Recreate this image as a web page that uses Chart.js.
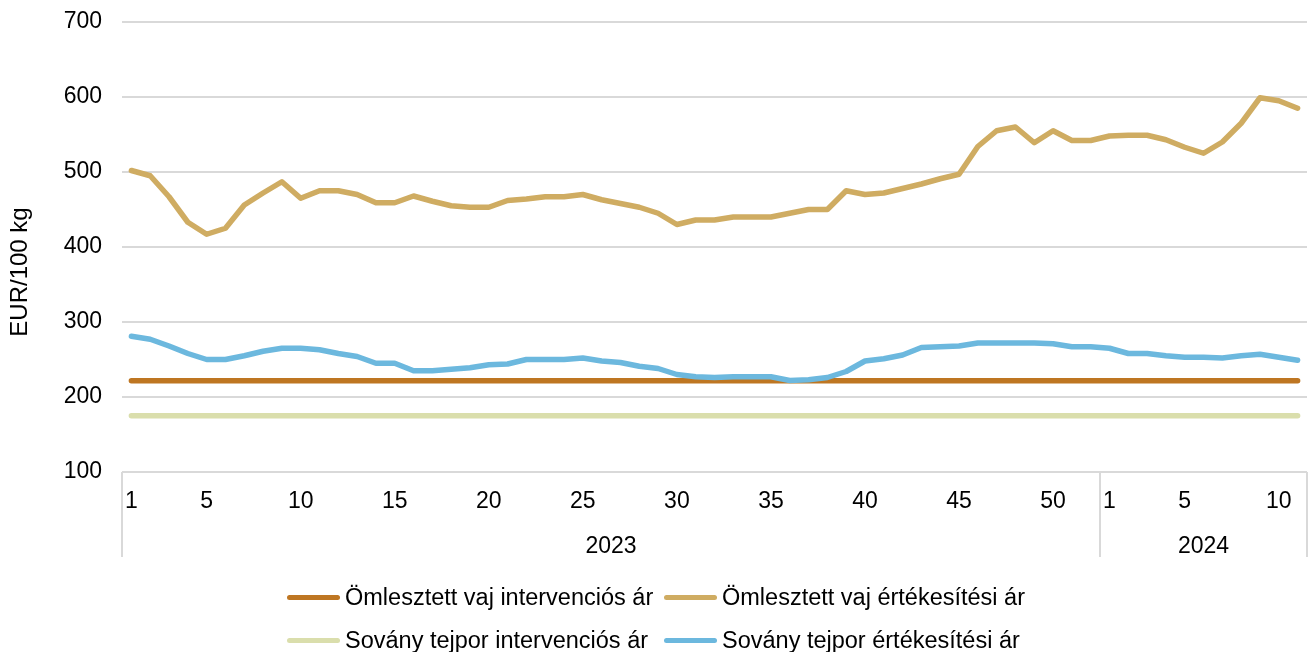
<!DOCTYPE html>
<html>
<head>
<meta charset="utf-8">
<script src="https://cdn.jsdelivr.net/npm/chart.js@4/dist/chart.umd.min.js"></script>
<style>
  body { margin: 0; background: #fff; }
  #wrap { position: relative; width: 1310px; height: 652px; }
  #legend {
    position: absolute; left: 287px; top: 583px;
    display: grid; grid-template-columns: 377px 377px; row-gap: 15px;
    font: 23.5px "Liberation Sans", Arial, sans-serif; color: #000;
  }
  .item { display: flex; align-items: center; height: 28px; white-space: nowrap; }
  .swatch { width: 53px; height: 5px; border-radius: 3px; margin-right: 5px; }
</style>
</head>
<body>
<div id="wrap">
  <canvas id="myChart" width="1310" height="652"></canvas>
  <div id="legend"></div>
</div>
<script>
// heti adatok, EUR/100 kg
const weeks = [
  '1','2','3','4','5','6','7','8','9','10','11','12','13','14','15','16','17','18','19','20',
  '21','22','23','24','25','26','27','28','29','30','31','32','33','34','35','36','37','38','39','40',
  '41','42','43','44','45','46','47','48','49','50','51','52',
  '1','2','3','4','5','6','7','8','9','10','11'
];
const years = ['2023', '2024'];
const weeksPerYear = [52, 11];

const vajInterv = [
  221.75,221.75,221.75,221.75,221.75,221.75,221.75,221.75,221.75,221.75,221.75,221.75,221.75,221.75,221.75,221.75,
  221.75,221.75,221.75,221.75,221.75,221.75,221.75,221.75,221.75,221.75,221.75,221.75,221.75,221.75,221.75,221.75,
  221.75,221.75,221.75,221.75,221.75,221.75,221.75,221.75,221.75,221.75,221.75,221.75,221.75,221.75,221.75,221.75,
  221.75,221.75,221.75,221.75,221.75,221.75,221.75,221.75,221.75,221.75,221.75,221.75,221.75,221.75,221.75
];
const vajErtek = [
  502,495,467,433,417,425,456,472,487,465,475,475,470,459,459,468,461,455,453,453,
  462,464,467,467,470,463,458,453,445,430,436,436,440,440,440,445,450,450,475,470,
  472,478,484,491,497,534,555,560,539,555,542,542,
  548,549,549,543,533,525,540,565,599,595,585
];
const tejporInterv = [
  175,175,175,175,175,175,175,175,175,175,175,175,175,175,175,175,175,175,175,175,175,
  175,175,175,175,175,175,175,175,175,175,175,175,175,175,175,175,175,175,175,175,175,
  175,175,175,175,175,175,175,175,175,175,175,175,175,175,175,175,175,175,175,175,175
];
const tejporErtek = [
  281,277,268,258,250,250,255,261,265,265,263,258,254,245,245,235,235,237,239,243,
  244,250,250,250,252,248,246,241,238,230,227,226,227,227,227,222,223,226,234,248,
  251,256,266,267,268,272,272,272,272,271,267,267,
  265,258,258,255,253,253,252,255,257,253,249
];
const yTicks = [100, 700, 100]; // min, max, lépésköz

const font = '"Liberation Sans", Arial, sans-serif';

function serie(label, data, color, order) {
  return {
    label: label, data: data, borderColor: color, backgroundColor: color,
    borderWidth: 5.5, pointRadius: 0, tension: 0, order: order,
    borderCapStyle: 'round', borderJoinStyle: 'round'
  };
}

const datasets = [
  serie('Ömlesztett vaj intervenciós ár', vajInterv, '#BE7622', 3),
  serie('Ömlesztett vaj értékesítési ár', vajErtek, '#CFAC62', 1),
  serie('Sovány tejpor intervenciós ár', tejporInterv, '#DADEAC', 2),
  serie('Sovány tejpor értékesítési ár', tejporErtek, '#6CB8DE', 0)
];

// évek szerinti csoportosítás az x tengely alatt + y tengely felirat
const csoportok = {
  id: 'csoportok',
  afterDraw(chart) {
    const ctx = chart.ctx;
    const area = chart.chartArea;
    const x = chart.scales.x;
    const edges = [area.left];
    let n = 0;
    weeksPerYear.forEach(len => {
      n += len;
      if (n < weeks.length) {
        edges.push((x.getPixelForValue(n - 1) + x.getPixelForValue(n)) / 2);
      } else {
        edges.push(area.right);
      }
    });
    ctx.save();
    ctx.strokeStyle = '#d9d9d9';
    ctx.lineWidth = 2;
    edges.forEach(px => {
      ctx.beginPath();
      ctx.moveTo(Math.round(px), area.bottom);
      ctx.lineTo(Math.round(px), area.bottom + 85);
      ctx.stroke();
    });
    ctx.fillStyle = '#000';
    ctx.font = '23px ' + font;
    ctx.textAlign = 'center';
    ctx.textBaseline = 'middle';
    years.forEach((y, i) => {
      ctx.fillText(y, (edges[i] + edges[i + 1]) / 2, area.bottom + 75);
    });
    ctx.translate(20, 272);
    ctx.rotate(-Math.PI / 2);
    ctx.font = '24px ' + font;
    ctx.fillText('EUR/100 kg', 0, 0);
    ctx.restore();
  }
};

const ctx = document.getElementById('myChart').getContext('2d');
const myChart = new Chart(ctx, {
  type: 'line',
  data: { labels: weeks, datasets: datasets },
  options: {
    responsive: false,
    animation: false,
    devicePixelRatio: 1,
    layout: { padding: { top: 22, right: 3, bottom: 93, left: 0 } },
    plugins: { legend: { display: false }, tooltip: { enabled: false } },
    scales: {
      x: {
        offset: true,
        grid: { display: false },
        border: { display: false },
        ticks: {
          autoSkip: false, maxRotation: 0, minRotation: 0, padding: 8,
          color: '#000', font: { family: font, size: 23 },
          callback: function (v, i) {
            const w = Number(weeks[i]);
            return (w === 1 || w % 5 === 0) ? weeks[i] : '';
          }
        },
        afterFit: function (scale) { scale.height = 87; }
      },
      y: {
        min: yTicks[0], max: yTicks[1],
        grid: { color: '#d9d9d9', lineWidth: 2, drawTicks: false },
        border: { display: false },
        ticks: {
          stepSize: yTicks[2], padding: 20,
          color: '#000', font: { family: font, size: 23 }
        },
        afterFit: function (scale) {
          scale.width = 122;
          scale.paddingTop = 0;
          scale.paddingBottom = 0;
        }
      }
    }
  },
  plugins: [csoportok]
});

// jelmagyarázat
const legend = document.getElementById('legend');
datasets.forEach(d => {
  const item = document.createElement('div');
  item.className = 'item';
  const sw = document.createElement('span');
  sw.className = 'swatch';
  sw.style.background = d.borderColor;
  item.appendChild(sw);
  item.appendChild(document.createTextNode(d.label));
  legend.appendChild(item);
});
</script>
</body>
</html>
